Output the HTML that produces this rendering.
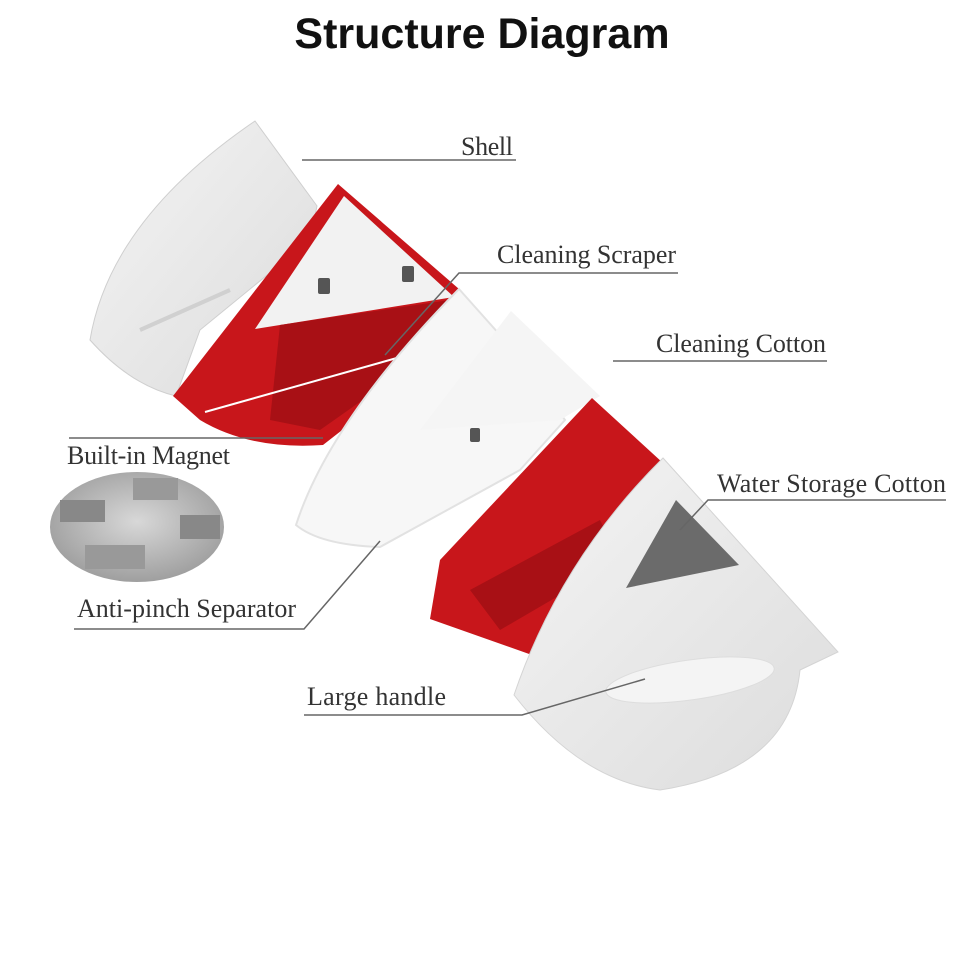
<!DOCTYPE html>
<html><head><meta charset="utf-8"><style>
html,body{margin:0;padding:0;background:#fff;}
svg{display:block;}
.t{font-family:"Liberation Serif",serif;font-size:26px;fill:#333;}
</style></head><body>
<svg width="960" height="960" viewBox="0 0 960 960" xmlns="http://www.w3.org/2000/svg">
<defs>
<radialGradient id="mg" cx="50%" cy="45%" r="60%"><stop offset="0" stop-color="#d8d8d8"/><stop offset="1" stop-color="#9a9a9a"/></radialGradient>
<linearGradient id="wh" x1="0" y1="0" x2="1" y2="1"><stop offset="0" stop-color="#f4f4f4"/><stop offset="1" stop-color="#dcdcdc"/></linearGradient>
</defs>
<text x="482" y="48" text-anchor="middle" font-family="Liberation Sans, sans-serif" font-weight="bold" font-size="43" fill="#111">Structure Diagram</text>

<!-- Shell -->
<path d="M255,121 L317,206 L310,240 L200,330 L176,396 Q130,385 90,340 Q110,220 255,121 Z" fill="url(#wh)" stroke="#cfcfcf"/>
<path d="M140,330 L230,290" stroke="#d0d0d0" stroke-width="4"/>
<!-- Red scraper -->
<path d="M338,184 L459,289 L470,330 L323,445 Q250,450 200,420 L173,396 Z" fill="#c8161b"/>
<path d="M344,196 L454,297 L255,329 Z" fill="#f2f2f2"/>
<path d="M280,325 L450,300 L455,335 L320,430 L270,420 Z" fill="#a81015"/>
<path d="M205,412 L475,336" stroke="#fff" stroke-width="2"/>
<rect x="318" y="278" width="12" height="16" fill="#555" rx="2"/>
<rect x="402" y="266" width="12" height="16" fill="#555" rx="2"/>
<!-- Separator frame -->
<path d="M459,289 L500,335 L565,420 L520,470 L380,547 Q320,545 296,525 Q330,420 459,289 Z" fill="#f7f7f7" stroke="#e2e2e2" stroke-width="2"/>
<!-- Cleaning cotton -->
<path d="M511,311 L600,396 L560,420 L420,430 Z" fill="#f5f5f5"/>
<rect x="470" y="428" width="10" height="14" fill="#555" rx="2"/>
<!-- Red 2 -->
<path d="M592,398 L663,463 L640,640 L532,655 L430,619 L440,560 Z" fill="#c8161b"/>
<path d="M470,590 L600,520 L620,560 L500,630 Z" fill="#a81015"/>
<!-- White front -->
<path d="M663,458 L838,652 L800,670 Q790,770 660,790 Q580,780 514,695 Q560,560 663,458 Z" fill="url(#wh)" stroke="#d4d4d4"/>
<path d="M676,500 L739,565 L626,588 Z" fill="#6b6b6b"/>
<ellipse cx="690" cy="680" rx="85" ry="20" transform="rotate(-8 690 680)" fill="#f4f4f4" stroke="#ddd"/>
<!-- Magnet -->
<ellipse cx="137" cy="527" rx="87" ry="55" fill="url(#mg)"/>
<rect x="60" y="500" width="45" height="22" fill="#888"/>
<rect x="133" y="478" width="45" height="22" fill="#999"/>
<rect x="180" y="515" width="40" height="24" fill="#888"/>
<rect x="85" y="545" width="60" height="24" fill="#999"/>

<!-- Leader lines -->
<g stroke="#666" stroke-width="1.5" fill="none">
<path d="M302,160 L516,160"/>
<path d="M678,273 L459,273 L385,355"/>
<path d="M613,361 L827,361"/>
<path d="M69,438 L323,438"/>
<path d="M946,500 L708,500 L680,530"/>
<path d="M74,629 L304,629 L380,541"/>
<path d="M304,715 L522,715 L645,679"/>
</g>
<text class="t" x="461" y="155" textLength="52">Shell</text>
<text class="t" x="497" y="263" textLength="179">Cleaning Scraper</text>
<text class="t" x="656" y="352" textLength="170">Cleaning Cotton</text>
<text class="t" x="67" y="464" textLength="163">Built-in Magnet</text>
<text class="t" x="717" y="492" textLength="229">Water Storage Cotton</text>
<text class="t" x="77" y="617" textLength="219">Anti-pinch Separator</text>
<text class="t" x="307" y="705" textLength="139">Large handle</text>
</svg>
</body></html>
